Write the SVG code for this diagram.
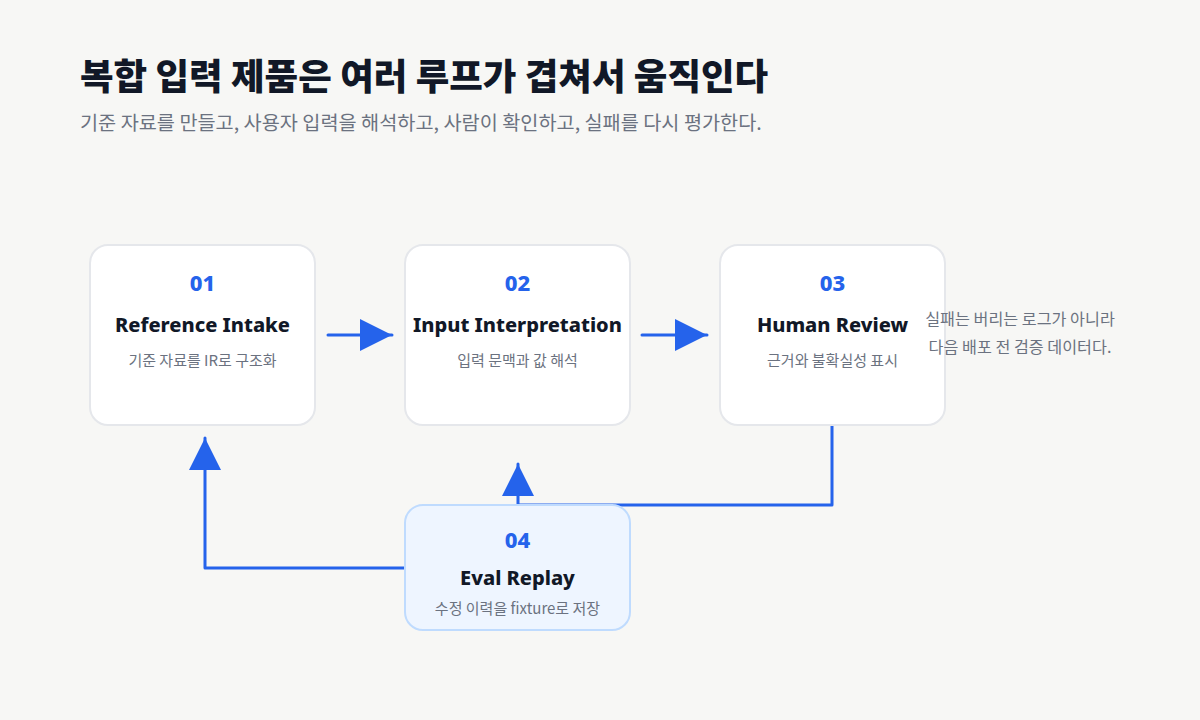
<svg xmlns="http://www.w3.org/2000/svg" width="1200" height="720" viewBox="0 0 1200 720">
<defs>
<style>
text{font-family:"Noto Sans","Noto Sans CJK KR",sans-serif}
.ttl{font-family:"Noto Sans CJK KR",sans-serif;font-size:36.5px;font-weight:900;fill:#111827}
.sub{font-family:"Noto Sans CJK KR",sans-serif;font-size:19.7px;fill:#6b7280}
.box{fill:#ffffff;stroke:#e5e7eb;stroke-width:2}
.box4{fill:#eef5ff;stroke:#bfdbfe;stroke-width:2}
.num{font-size:22px;font-weight:800;fill:#2563eb;text-anchor:middle}
.nt{font-size:20px;font-weight:800;fill:#111827;text-anchor:middle}
.ns{font-family:"Noto Sans CJK KR",sans-serif;font-size:15px;fill:#6b7280;text-anchor:middle}
.note{font-family:"Noto Sans CJK KR",sans-serif;font-size:16.2px;fill:#6b7280;text-anchor:middle}
.con{fill:none;stroke:#2563eb;stroke-width:3;stroke-linecap:round;stroke-linejoin:round}
</style>
<marker id="ah" markerUnits="userSpaceOnUse" markerWidth="34" markerHeight="34" viewBox="0 0 34 34" refX="33" refY="17" orient="auto">
<path d="M1,1 L33,17 L1,33 Z" fill="#2563eb"/>
</marker>
</defs>
<rect width="1200" height="720" fill="#f7f7f5"/>
<text class="ttl" x="80" y="90">복합 입력 제품은 여러 루프가 겹쳐서 움직인다</text>
<text class="sub" x="80" y="130">기준 자료를 만들고, 사용자 입력을 해석하고, 사람이 확인하고, 실패를 다시 평가한다.</text>
<g id="connectors">
<path class="con" d="M328,335 L392,335" marker-end="url(#ah)"/>
<path class="con" d="M642,335 L707,335" marker-end="url(#ah)"/>
<path class="con" d="M832,425 L832,505 L518,505 L518,464" marker-end="url(#ah)"/>
<path class="con" d="M405,568 L205,568 L205,438" marker-end="url(#ah)"/>
</g>
<g id="node1">
<rect class="box" x="90" y="245" width="225" height="180" rx="18"/>
<text class="num" x="202.5" y="291">01</text>
<text class="nt" x="202.5" y="332">Reference Intake</text>
<text class="ns" x="202.5" y="366">기준 자료를 IR로 구조화</text>
</g>
<g id="node2">
<rect class="box" x="405" y="245" width="225" height="180" rx="18"/>
<text class="num" x="517.5" y="291">02</text>
<text class="nt" x="517.5" y="332">Input Interpretation</text>
<text class="ns" x="517.5" y="366">입력 문맥과 값 해석</text>
</g>
<g id="node3">
<rect class="box" x="720" y="245" width="225" height="180" rx="18"/>
<text class="num" x="832.5" y="291">03</text>
<text class="nt" x="832.5" y="332">Human Review</text>
<text class="ns" x="832.5" y="366">근거와 불확실성 표시</text>
</g>
<g id="node4">
<rect class="box4" x="405" y="505" width="225" height="125" rx="18"/>
<text class="num" x="517.5" y="548">04</text>
<text class="nt" x="517.5" y="585">Eval Replay</text>
<text class="ns" x="517.5" y="614">수정 이력을 fixture로 저장</text>
</g>
<g id="note">
<text class="note" x="1020" y="325">실패는 버리는 로그가 아니라</text>
<text class="note" x="1020" y="353">다음 배포 전 검증 데이터다.</text>
</g>
</svg>
